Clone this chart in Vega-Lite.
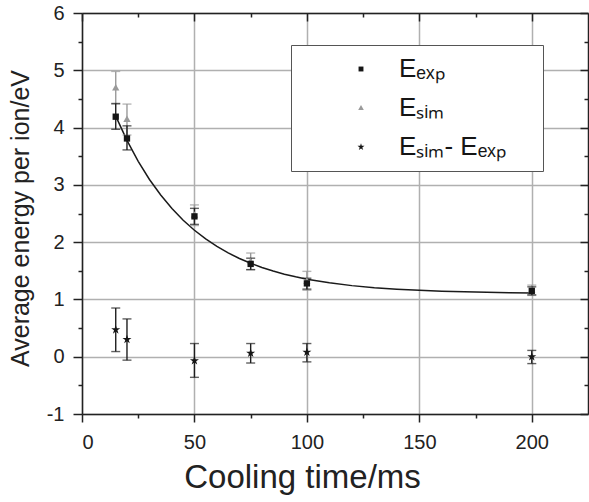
{
  "$schema": "https://vega.github.io/schema/vega-lite/v6.json",
  "width": 506,
  "height": 401,
  "autosize": {"type": "none"},
  "padding": {"left": 82, "top": 13, "right": 1, "bottom": 88},
  "background": "white",
  "config": {
    "view": {"stroke": null},
    "font": "Liberation Sans",
    "axis": {
      "domainColor": "#222",
      "domainWidth": 1.5,
      "tickColor": "#222",
      "tickWidth": 1.5,
      "gridColor": "#b0b0b0",
      "gridWidth": 1.5,
      "labelFont": "Liberation Sans",
      "labelFontSize": 20,
      "labelColor": "#222",
      "titleFont": "Liberation Sans",
      "titleFontWeight": "normal",
      "titleColor": "#222"
    }
  },
  "datasets": {
    "fit": [
      {"t": 15, "E": 4.2}, {"t": 20, "E": 3.776}, {"t": 25, "E": 3.41}, {"t": 30, "E": 3.094},
      {"t": 35, "E": 2.822}, {"t": 40, "E": 2.586}, {"t": 45, "E": 2.383}, {"t": 50, "E": 2.208},
      {"t": 55, "E": 2.056}, {"t": 60, "E": 1.925}, {"t": 65, "E": 1.812}, {"t": 70, "E": 1.715},
      {"t": 75, "E": 1.631}, {"t": 80, "E": 1.558}, {"t": 85, "E": 1.496}, {"t": 90, "E": 1.441},
      {"t": 95, "E": 1.395}, {"t": 100, "E": 1.354}, {"t": 110, "E": 1.29}, {"t": 120, "E": 1.241},
      {"t": 130, "E": 1.205}, {"t": 140, "E": 1.178}, {"t": 150, "E": 1.159}, {"t": 160, "E": 1.144},
      {"t": 170, "E": 1.133}, {"t": 180, "E": 1.124}, {"t": 190, "E": 1.118}, {"t": 200, "E": 1.113}
    ],
    "pts": [
      {"t": 15, "series": "Eₛᵢₘ", "E": 4.69, "lo": 4.41, "hi": 4.98},
      {"t": 20, "series": "Eₛᵢₘ", "E": 4.14, "lo": 3.87, "hi": 4.41},
      {"t": 50, "series": "Eₛᵢₘ", "E": 2.47, "lo": 2.29, "hi": 2.65},
      {"t": 75, "series": "Eₛᵢₘ", "E": 1.66, "lo": 1.52, "hi": 1.81},
      {"t": 100, "series": "Eₛᵢₘ", "E": 1.32, "lo": 1.16, "hi": 1.49},
      {"t": 200, "series": "Eₛᵢₘ", "E": 1.16, "lo": 1.07, "hi": 1.25},
      {"t": 15, "series": "Eₑₓₚ", "E": 4.19, "lo": 3.97, "hi": 4.42},
      {"t": 20, "series": "Eₑₓₚ", "E": 3.81, "lo": 3.61, "hi": 4.03},
      {"t": 50, "series": "Eₑₓₚ", "E": 2.45, "lo": 2.31, "hi": 2.59},
      {"t": 75, "series": "Eₑₓₚ", "E": 1.62, "lo": 1.52, "hi": 1.72},
      {"t": 100, "series": "Eₑₓₚ", "E": 1.28, "lo": 1.18, "hi": 1.37},
      {"t": 200, "series": "Eₑₓₚ", "E": 1.15, "lo": 1.08, "hi": 1.22},
      {"t": 15, "series": "Eₛᵢₘ- Eₑₓₚ", "E": 0.47, "lo": 0.09, "hi": 0.85},
      {"t": 20, "series": "Eₛᵢₘ- Eₑₓₚ", "E": 0.3, "lo": -0.06, "hi": 0.66},
      {"t": 50, "series": "Eₛᵢₘ- Eₑₓₚ", "E": -0.07, "lo": -0.36, "hi": 0.23},
      {"t": 75, "series": "Eₛᵢₘ- Eₑₓₚ", "E": 0.06, "lo": -0.11, "hi": 0.23},
      {"t": 100, "series": "Eₛᵢₘ- Eₑₓₚ", "E": 0.08, "lo": -0.09, "hi": 0.23},
      {"t": 200, "series": "Eₛᵢₘ- Eₑₓₚ", "E": 0.0, "lo": -0.12, "hi": 0.11}
    ]
  },
  "layer": [
    {
      "data": {"name": "fit"},
      "mark": {"type": "line", "color": "#1a1a1a", "strokeWidth": 1.5},
      "encoding": {
        "x": {
          "field": "t", "type": "quantitative",
          "scale": {"domain": [0, 225], "nice": false, "zero": false},
          "axis": {
            "orient": "bottom",
            "title": "Cooling time/ms",
            "titleFontSize": 33,
            "titleX": 220,
            "titleY": 73,
            "titleAlign": "center",
            "titleBaseline": "alphabetic",
            "values": [0, 25, 50, 75, 100, 125, 150, 175, 200],
            "labelExpr": "datum.value % 50 === 0 ? '' + datum.value : ''",
            "tickSize": {"condition": {"test": "datum.value % 50 === 0", "value": 8}, "value": 4},
            "gridOpacity": {"condition": {"test": "datum.value % 50 === 0", "value": 1}, "value": 0},
            "grid": true,
            "labelPadding": 10
          }
        },
        "y": {
          "field": "E", "type": "quantitative",
          "scale": {"domain": [-1, 6], "nice": false, "zero": false},
          "axis": {
            "orient": "left",
            "title": "Average energy per ion/eV",
            "titleFontSize": 25,
            "titleX": -54,
            "titleY": 205,
            "titleAngle": -90,
            "titleAlign": "center",
            "titleBaseline": "alphabetic",
            "values": [-1, -0.5, 0, 0.5, 1, 1.5, 2, 2.5, 3, 3.5, 4, 4.5, 5, 5.5, 6],
            "labelExpr": "datum.value % 1 === 0 ? '' + datum.value : ''",
            "tickSize": {"condition": {"test": "datum.value % 1 === 0", "value": 9}, "value": 4},
            "gridOpacity": {"condition": {"test": "datum.value % 1 === 0", "value": 1}, "value": 0},
            "grid": true,
            "labelPadding": 9
          }
        }
      }
    },
    {
      "data": {"name": "fit"},
      "mark": {"type": "line", "opacity": 0},
      "encoding": {
        "x": {
          "field": "t", "type": "quantitative",
          "axis": {
            "orient": "top", "title": null, "labels": false, "grid": false,
            "values": [0, 25, 50, 75, 100, 125, 150, 175, 200],
            "tickSize": {"condition": {"test": "datum.value % 50 === 0", "value": -8}, "value": -4}
          }
        },
        "y": {
          "field": "E", "type": "quantitative",
          "axis": {
            "orient": "right", "title": null, "labels": false, "grid": false,
            "values": [-1, -0.5, 0, 0.5, 1, 1.5, 2, 2.5, 3, 3.5, 4, 4.5, 5, 5.5, 6],
            "tickSize": {"condition": {"test": "datum.value % 1 === 0", "value": -8}, "value": -4}
          }
        }
      }
    },
    {
      "data": {"name": "pts"},
      "transform": [{"filter": "datum.series === 'Eₛᵢₘ'"}],
      "mark": {"type": "errorbar", "color": "#9a9a9a", "thickness": 1.4, "ticks": {"size": 9, "thickness": 1.4}},
      "encoding": {
        "x": {"field": "t", "type": "quantitative", "axis": null},
        "y": {"field": "lo", "type": "quantitative", "axis": null},
        "y2": {"field": "hi"}
      }
    },
    {
      "data": {"name": "pts"},
      "transform": [{"filter": "datum.series !== 'Eₛᵢₘ'"}],
      "mark": {"type": "errorbar", "color": "#1e1e1e", "thickness": 1.4, "ticks": {"size": 9, "thickness": 1.4}},
      "encoding": {
        "x": {"field": "t", "type": "quantitative", "axis": null},
        "y": {"field": "lo", "type": "quantitative", "axis": null},
        "y2": {"field": "hi"},
        "detail": {"field": "series"}
      }
    },
    {
      "data": {"name": "pts"},
      "mark": {"type": "point", "filled": true, "size": 40, "opacity": 1},
      "encoding": {
        "x": {"field": "t", "type": "quantitative", "axis": null},
        "y": {"field": "E", "type": "quantitative", "axis": null},
        "color": {
          "field": "series", "type": "nominal",
          "scale": {"domain": ["Eₑₓₚ", "Eₛᵢₘ", "Eₛᵢₘ- Eₑₓₚ"], "range": ["#151515", "#9a9a9a", "#151515"]},
          "legend": {
            "title": " ",
            "titleOrient": "right",
            "titleFontSize": 10,
            "titlePadding": 26,
            "orient": "none",
            "legendX": 209,
            "legendY": 32,
            "padding": 11,
            "strokeColor": "#555",
            "fillColor": "white",
            "symbolOffset": 46,
            "labelOffset": 25,
            "labelFont": "Liberation Sans",
            "labelFontSize": 26,
            "labelColor": "#151515",
            "labelLimit": 400,
            "rowPadding": 13,
            "symbolSize": 24,
            "symbolStrokeWidth": 0
          }
        },
        "shape": {
          "field": "series", "type": "nominal",
          "scale": {"domain": ["Eₑₓₚ", "Eₛᵢₘ", "Eₛᵢₘ- Eₑₓₚ"], "range": ["square", "M0,-1.25L1.15,0.8L-1.15,0.8Z", "M0,-1.5L0.337,-0.464L1.427,-0.464L0.545,0.177L0.882,1.214L0,0.573L-0.882,1.214L-0.545,0.177L-1.427,-0.464L-0.337,-0.464Z"]},
          "legend": {
            "title": " ",
            "titleOrient": "right",
            "titleFontSize": 10,
            "titlePadding": 26,
            "orient": "none",
            "legendX": 209,
            "legendY": 32,
            "padding": 11,
            "strokeColor": "#555",
            "fillColor": "white",
            "symbolOffset": 46,
            "labelOffset": 25,
            "labelFont": "Liberation Sans",
            "labelFontSize": 26,
            "labelColor": "#151515",
            "labelLimit": 400,
            "rowPadding": 13,
            "symbolSize": 24,
            "symbolStrokeWidth": 0
          }
        }
      }
    }
  ],
  "resolve": {"axis": {"x": "independent", "y": "independent"}}
}
